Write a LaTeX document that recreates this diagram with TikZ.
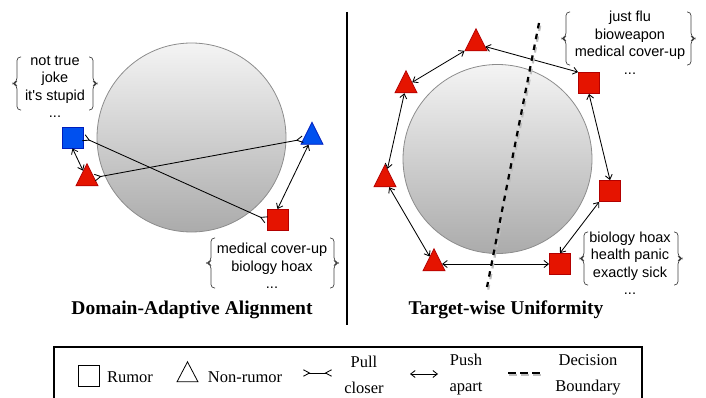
\documentclass[tikz,border=0pt]{standalone}
\usepackage{fontspec}
\setmainfont{Liberation Serif}
\setsansfont{Liberation Sans}
\usetikzlibrary{shapes.geometric,arrows.meta}
\definecolor{dioRed}{HTML}{E51400}
\definecolor{dioRedD}{HTML}{B20000}
\definecolor{dioBlue}{HTML}{0050EF}
\definecolor{dioBlueD}{HTML}{001DBC}
\definecolor{circTop}{HTML}{F4F4F4}
\definecolor{circBot}{HTML}{ABABAB}
\definecolor{circLine}{HTML}{8C8C8C}
\definecolor{dbShadow}{HTML}{BEBEBE}
\newcommand\mybraces[4]{%
  \draw[bracestyle] ({#1+8},#3) -- ({#1+4},#3) -- ({#1+4},{(#3+#4)/2-2}) -- (#1,{(#3+#4)/2}) -- ({#1+4},{(#3+#4)/2+2}) -- ({#1+4},#4) -- ({#1+8},#4);
  \draw[bracestyle] ({#2-8},#3) -- ({#2-4},#3) -- ({#2-4},{(#3+#4)/2-2}) -- (#2,{(#3+#4)/2}) -- ({#2-4},{(#3+#4)/2+2}) -- ({#2-4},#4) -- ({#2-8},#4);
}
\begin{document}
\begin{tikzpicture}[x=1pt,y=-1pt,
  sqbase/.style={rectangle, minimum size=21pt, inner sep=0pt, line width=0.8pt},
  redsq/.style={sqbase, fill=dioRed, draw=dioRedD},
  bluesq/.style={sqbase, fill=dioBlue, draw=dioBlueD},
  tribase/.style={isosceles triangle, isosceles triangle stretches, shape border rotate=90,
     minimum width=22pt, minimum height=22pt, inner sep=0pt, line width=0.8pt},
  redtri/.style={tribase, fill=dioRed, draw=dioRedD},
  bluetri/.style={tribase, fill=dioBlue, draw=dioBlueD},
  bigcirc/.style={circle, minimum size=189pt, inner sep=0pt, draw=circLine, line width=0.8pt,
     top color=circTop, bottom color=circBot},
  wordlist/.style={align=center, inner sep=0pt, font=\fontsize{14.5}{17.5}\selectfont\sffamily},
  bracestyle/.style={draw=black!75, line width=0.7pt, rounded corners=3.5pt},
  pushline/.style={line width=0.85pt, {Straight Barb[length=4.5pt,width=7pt]}-{Straight Barb[length=4.5pt,width=7pt]}},
  pullline/.style={line width=0.85pt, {Straight Barb[length=6pt,width=6.5pt,reversed]}-{Straight Barb[length=6pt,width=6.5pt,reversed]}},
  titletext/.style={inner sep=0pt, font=\fontsize{19.5}{22}\selectfont\bfseries},
  legtext/.style={inner sep=0pt, align=center, font=\fontsize{16.5}{26}\selectfont},
  dbblack/.style={line width=2.2pt, dash pattern=on 5.5pt off 5.5pt, black},
  dbgray/.style={line width=2.2pt, dash pattern=on 5.5pt off 5.5pt, dbShadow},
]
\useasboundingbox (0,0) rectangle (706,398);

% ---------- left panel ----------
\node[bigcirc] (cL) at (191.5,137.5) {};
\node[bluesq] (bs) at (72.5,137.5) {};
\node[redtri] (rt) at (87,179) {};
\node[bluetri] (bt) at (312,137.5) {};
\node[redsq] (rs) at (277.5,220) {};

\draw[pullline] (bs.east) -- (rs.west);
\draw[pullline] (rt) -- (bt);
\draw[pushline] (bs.south) -- (rt);
\draw[pushline] (bt) -- (rs.north);

\node[wordlist] (wl1) at (55,87) {not true\\joke\\it\textquotesingle s stupid\\...};
\mybraces{13}{97}{57}{110}
\node[wordlist] (wl2) at (272,266) {medical cover-up\\biology hoax\\...};
\mybraces{207}{338}{238}{288}

\node[titletext] (tl) at (192,310) {Domain-Adaptive Alignment};

% ---------- divider ----------
\coordinate (dv1) at (347,12);
\coordinate (dv2) at (347,325);
\draw[line width=1.4pt] (dv1) -- (dv2);

% ---------- right panel ----------
\node[bigcirc] (cR) at (497.5,159) {};
\node[redtri] (t1) at (476,44) {};
\node[redtri] (t2) at (406,86) {};
\node[redtri] (t3) at (385,180) {};
\node[redtri] (t4) at (434,264) {};
\node[redsq] (s1) at (589,83) {};
\node[redsq] (s2) at (610,191) {};
\node[redsq] (s3) at (560,264) {};

\draw[pushline] (t1) -- (s1.north west);
\draw[pushline] (t1) -- (t2);
\draw[pushline] (t2) -- (t3);
\draw[pushline] (t3) -- (t4);
\draw[pushline] (t4) -- (s3);
\draw[pushline] (s3.north) -- (s2.south west);
\draw[pushline] (s2.north) -- (s1.south);

\coordinate (db1) at (539,23);
\coordinate (db2) at (487,287);
\draw[dbgray] ([shift={(1.2,2.6)}]db1) -- ([shift={(1.2,2.6)}]db2);
\draw[dbblack] (db1) -- (db2);

\node[wordlist] (wl3) at (630,42.5) {just flu\\bioweapon\\medical cover-up\\...};
\mybraces{562}{695}{12}{65}
\node[wordlist] (wl4) at (630,263) {biology hoax\\health panic\\exactly sick\\...};
\mybraces{580}{682}{232}{285}

\node[titletext] (tr) at (506,310) {Target-wise Uniformity};

% ---------- legend ----------
\coordinate (lb1) at (54,399);
\coordinate (lb2) at (54,347);
\coordinate (lb3) at (642,347);
\coordinate (lb4) at (642,399);
\draw[line width=1.3pt] (lb1) -- (lb2) -- (lb3) -- (lb4);

\node[sqbase, draw=black, minimum size=21pt] (lsq) at (89,375.5) {};
\node[legtext] (lrum) at (130,377) {Rumor};
\node[tribase, draw=black, minimum width=21pt, minimum height=20pt] (ltri) at (187.5,375.5) {};
\node[legtext] (lnon) at (245,377) {Non-rumor};

\coordinate (lp1) at (303,373);
\coordinate (lp2) at (332,373);
\draw[pullline] (lp1) -- (lp2);
\node[legtext] (lpull) at (364,375) {Pull\\closer};

\coordinate (lq1) at (410,374);
\coordinate (lq2) at (438,374);
\draw[pushline] (lq1) -- (lq2);
\node[legtext] (lpush) at (466,375) {Push\\apart};

\coordinate (ld1) at (508,373);
\coordinate (ld2) at (540,373);
\draw[line width=2.2pt, dash pattern=on 8pt off 4pt, dbShadow] ([shift={(1.2,1.6)}]ld1) -- ([shift={(1.2,1.6)}]ld2);
\draw[line width=2.2pt, dash pattern=on 8pt off 4pt, black] (ld1) -- (ld2);
\node[legtext] (ldec) at (588,375) {Decision\\Boundary};
\end{tikzpicture}
\end{document}
